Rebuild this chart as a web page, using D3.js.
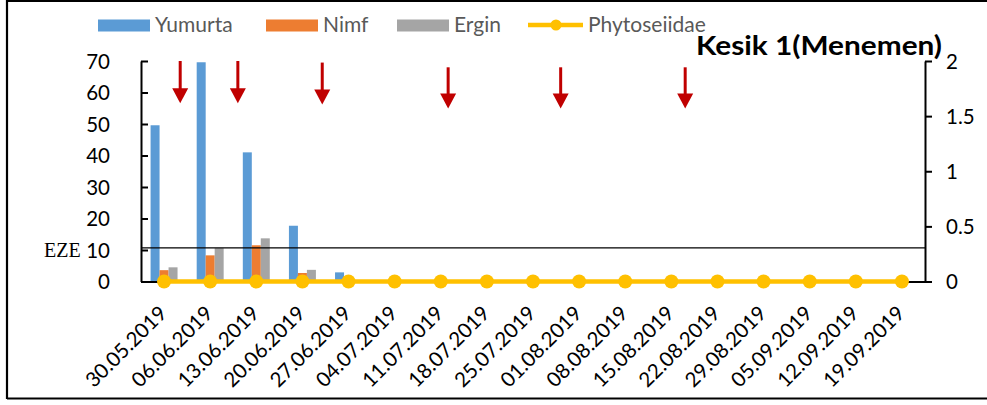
<!DOCTYPE html>
<html><head><meta charset="utf-8">
<script src="https://cdn.jsdelivr.net/npm/d3@7"></script>
<style>body{margin:0;background:#fff}svg{display:block}</style>
</head><body>
<svg id="c" width="987" height="405"></svg>
<script>
const categories = ["30.05.2019","06.06.2019","13.06.2019","20.06.2019","27.06.2019","04.07.2019","11.07.2019","18.07.2019","25.07.2019","01.08.2019","08.08.2019","15.08.2019","22.08.2019","29.08.2019","05.09.2019","12.09.2019","19.09.2019"];
const yumurta = [49.6,69.6,41.0,17.7,2.9,0,0,0,0,0,0,0,0,0,0,0,0];
const nimf    = [3.6,8.3,11.5,2.7,0,0,0,0,0,0,0,0,0,0,0,0,0];
const ergin   = [4.5,10.6,13.7,3.7,0,0,0,0,0,0,0,0,0,0,0,0,0];
const phytoseiidae = [0,0,0,0,0,0,0,0,0,0,0,0,0,0,0,0,0];
const seriesNames = ["Yumurta","Nimf","Ergin"];
const lineName = "Phytoseiidae";
const leftTicks = [0,10,20,30,40,50,60,70];
const rightTicks = [0,0.5,1,1.5,2];
const ezeValue = 10.7;
const ezeLabel = "EZE";
const title = "Kesik 1(Menemen)";
// spraying arrows: fractional category index, start and end value on left axis
const arrowPos = [0.35,1.6,3.43,6.16,8.6,11.3];
const arrowTop = [70,70,69.5,68,68,68];
const arrowTip = [56.6,56.6,56.2,54.9,54.9,54.9];

const colors = ["#5B9BD5","#ED7D31","#A5A5A5"];
const yellow = "#FFC000";
const font = "Lato, 'Open Sans', sans-serif";

const svg = d3.select("#c");
const L = 141, R = 925, T = 61, B = 281.5;

const x = d3.scaleBand().domain(categories).range([L, R]).padding(0);
const yL = d3.scaleLinear().domain([0,70]).range([B, T]);
const yR = d3.scaleLinear().domain([0,2]).range([B, T]);
const groupW = x.bandwidth()/1.71;
const xs = d3.scaleBand().domain(seriesNames).range([-groupW/2, groupW/2]);

// outer border
svg.append("path").attr("d","M7,399 L7,1 L990,1").attr("fill","none").attr("stroke","#000").attr("stroke-width",2.2);
svg.append("line").attr("x1",7).attr("x2",990).attr("y1",398.5).attr("y2",398.5).attr("stroke","#000").attr("stroke-width",2.2);

// bars
const data = [yumurta,nimf,ergin];
data.forEach((arr,si)=>{
  svg.append("g").selectAll("rect").data(arr).join("rect")
    .attr("x",(d,i)=>x(categories[i])+x.bandwidth()/2+xs(seriesNames[si]))
    .attr("width",xs.bandwidth())
    .attr("y",d=>yL(d))
    .attr("height",d=>B-yL(d))
    .attr("fill",colors[si]);
});

// left axis
const gL = svg.append("g").attr("transform",`translate(${L},0)`)
  .call(d3.axisLeft(yL).tickValues(leftTicks).tickSize(-7).tickPadding(31).tickSizeOuter(0));
gL.select(".domain").attr("stroke","#000").attr("stroke-width",2);
gL.selectAll(".tick line").attr("stroke","#000").attr("stroke-width",2);
gL.selectAll(".tick text").attr("font-family",font).attr("font-size",20.5).attr("fill","#000").attr("dy","0.36em");

// right axis
const gR = svg.append("g").attr("transform",`translate(${R},0)`)
  .call(d3.axisRight(yR).tickValues(rightTicks).tickFormat(d=>String(d)).tickSize(7).tickPadding(14).tickSizeOuter(0));
gR.select(".domain").attr("stroke","#000").attr("stroke-width",2);
gR.selectAll(".tick line").attr("stroke","#000").attr("stroke-width",2);
gR.selectAll(".tick text").attr("font-family",font).attr("font-size",20.5).attr("fill","#000").attr("dy","0.36em");

// x axis
const gX = svg.append("g").attr("transform",`translate(0,${B})`)
  .call(d3.axisBottom(x).tickSize(0).tickSizeOuter(0));
gX.select(".domain").attr("stroke","#000").attr("stroke-width",2);
gX.selectAll(".tick text").attr("font-family",font).attr("font-size",20.5).attr("fill","#000")
  .attr("text-anchor","end").attr("dy",0).attr("y",0)
  .attr("transform","translate(4,33) rotate(-45)");

// EZE line
svg.append("line").attr("x1",L).attr("x2",R).attr("y1",yL(ezeValue)).attr("y2",yL(ezeValue)).attr("stroke","#000").attr("stroke-width",1.2);
svg.append("text").attr("x",44).attr("y",yL(ezeValue)+9).text(ezeLabel)
  .attr("font-family","'Liberation Serif','Times New Roman',serif").attr("font-size",20).attr("fill","#000");

// Phytoseiidae line
const line = d3.line().x((d,i)=>x(categories[i])+x.bandwidth()/2).y(d=>yR(d));
svg.append("path").datum(phytoseiidae).attr("d",line).attr("fill","none").attr("stroke",yellow).attr("stroke-width",4.5);
svg.append("g").selectAll("circle").data(phytoseiidae).join("circle")
  .attr("cx",(d,i)=>x(categories[i])+x.bandwidth()/2).attr("cy",d=>yR(d)).attr("r",7).attr("fill",yellow);

// arrows
const step = x.step();
arrowPos.forEach((p,i)=>{
  const ax = L + step*(p+0.5);
  const y0 = yL(arrowTop[i]), y1 = yL(arrowTip[i]);
  const hh = 15, hw = 8;
  svg.append("line").attr("x1",ax).attr("x2",ax).attr("y1",y0).attr("y2",y1-hh+1).attr("stroke","#C00000").attr("stroke-width",3);
  svg.append("path").attr("d",`M${ax-hw},${y1-hh} L${ax+hw},${y1-hh} L${ax},${y1} Z`).attr("fill","#C00000");
});

// title
svg.append("text").attr("x",942).attr("y",55).attr("text-anchor","end").text(title)
  .attr("font-family",font).attr("font-weight","bold").attr("font-size",27)
  .attr("textLength",246).attr("lengthAdjust","spacingAndGlyphs").attr("fill","#000");

// legend
const legX = [98,266,397];
const legG = svg.append("g");
seriesNames.forEach((n,i)=>{
  legG.append("rect").attr("x",legX[i]).attr("y",19.5).attr("width",52).attr("height",12).attr("fill",colors[i]);
  legG.append("text").attr("x",legX[i]+57).attr("y",32).text(n)
    .attr("font-family",font).attr("font-size",21).attr("fill","#595959");
});
legG.append("line").attr("x1",528).attr("x2",583).attr("y1",25).attr("y2",25).attr("stroke",yellow).attr("stroke-width",4.5);
legG.append("circle").attr("cx",556).attr("cy",25).attr("r",5.5).attr("fill",yellow);
legG.append("text").attr("x",588).attr("y",32).text(lineName)
  .attr("font-family",font).attr("font-size",21).attr("fill","#595959");
</script>
</body></html>
